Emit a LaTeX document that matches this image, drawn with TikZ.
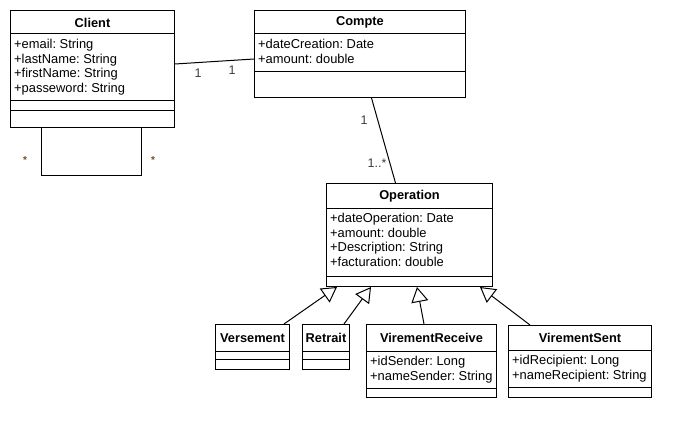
\documentclass[tikz,border=0pt]{standalone}
\usepackage{fontspec}
\setmainfont{Liberation Sans}
\usetikzlibrary{arrows.meta,positioning}

\definecolor{mult}{RGB}{60,60,60}
\definecolor{starc}{RGB}{110,80,20}

\tikzset{
  classbox/.style={draw, line width=1pt, anchor=north west, inner sep=0pt},
  ctitle/.style={font=\fontsize{12.8}{14.7}\selectfont\bfseries, inner sep=0pt},
  attrs/.style={font=\fontsize{12.9}{14.7}\selectfont, align=left, anchor=north west, inner sep=0pt},
  mlabel/.style={font=\fontsize{12.5}{14.7}\selectfont, text=mult, inner sep=0pt},
  assoc/.style={line width=1pt},
  inherit/.style={line width=1pt, -{Triangle[open, length=15pt, width=17pt]}},
}

\begin{document}
\frenchspacing
\begin{tikzpicture}[x=1pt, y=-1pt]
  \useasboundingbox (0,0) rectangle (689,436);

  % class boxes
  \node[classbox, minimum width=164pt, minimum height=117pt] (client) at (10,10) {};
  \node[classbox, minimum width=211pt, minimum height=87pt] (compte) at (254,10) {};
  \node[classbox, minimum width=166pt, minimum height=103pt] (operation) at (326,183) {};
  \node[classbox, minimum width=74pt, minimum height=45pt] (versement) at (215,324) {};
  \node[classbox, minimum width=47pt, minimum height=45pt] (retrait) at (302,324) {};
  \node[classbox, minimum width=130pt, minimum height=73pt] (vreceive) at (366,324) {};
  \node[classbox, minimum width=143pt, minimum height=72pt] (vsent) at (508,325) {};

  % compartments
  \foreach \c/\d in {client/24, client/91, client/101, compte/24, compte/62,
                     operation/25, operation/93, versement/27, versement/35,
                     retrait/27, retrait/35, vreceive/27, vreceive/64,
                     vsent/25, vsent/62}
    \draw[line width=1pt] ([yshift=-\d pt]\c.north west) -- ([yshift=-\d pt]\c.north east);

  % titles
  \node[ctitle] (clientT) at ([yshift=-12.5pt]client.north) {Client};
  \node[ctitle] (compteT) at ([yshift=-12.5pt]compte.north) {Compte};
  \node[ctitle] (operationT) at ([yshift=-13pt]operation.north) {Operation};
  \node[ctitle] (versementT) at ([yshift=-14pt]versement.north) {Versement};
  \node[ctitle] (retraitT) at ([yshift=-14pt]retrait.north) {Retrait};
  \node[ctitle] (vreceiveT) at ([yshift=-14pt]vreceive.north) {VirementReceive};
  \node[ctitle] (vsentT) at ([yshift=-13pt]vsent.north) {VirementSent};

  % attributes
  \node[attrs] (clientA) at ([xshift=4pt,yshift=-29pt]client.north west)
    {+email: String\\+lastName: String\\+firstName: String\\+passeword: String};
  \node[attrs] (compteA) at ([xshift=4pt,yshift=-29pt]compte.north west)
    {+dateCreation: Date\\+amount: double};
  \node[attrs] (operationA) at ([xshift=4pt,yshift=-30pt]operation.north west)
    {+dateOperation: Date\\+amount: double\\+Description: String\\+facturation: double};
  \node[attrs] (vreceiveA) at ([xshift=4pt,yshift=-32pt]vreceive.north west)
    {+idSender: Long\\+nameSender: String};
  \node[attrs] (vsentA) at ([xshift=4pt,yshift=-30pt]vsent.north west)
    {+idRecipient: Long\\+nameRecipient: String};

  % self association on Client
  \coordinate (loopA) at ([xshift=31pt]client.south west);
  \coordinate (loopB) at ([xshift=-34pt]client.south east);
  \draw[assoc] (loopA) -- ++(0,47) -| (loopB);
  \node[font=\normalsize\bfseries, text=starc, inner sep=0pt] (starA) at (25,160) {*};
  \node[font=\normalsize\bfseries, text=starc, inner sep=0pt] (starB) at (153,160) {*};

  % Client -- Compte
  \draw[assoc] ([yshift=-54pt]client.north east) -- ([yshift=-49pt]compte.north west);
  \node[mlabel] (m1) at (198,73) {1};
  \node[mlabel] (m2) at (232,70) {1};

  % Compte -- Operation
  \draw[assoc] ([xshift=11.5pt]compte.south) -- ([xshift=-14pt]operation.north);
  \node[mlabel] (m3) at (364,120) {1};
  \node[mlabel] (m4) at (377,163) {1..*};

  % generalisations
  \draw[inherit] ([xshift=-6pt]versement.north east) -- ([xshift=11pt]operation.south west);
  \draw[inherit] ([xshift=-6pt]retrait.north east) -- ([xshift=45pt]operation.south west);
  \draw[inherit] ([xshift=58pt]vreceive.north west) -- ([xshift=91pt]operation.south west);
  \draw[inherit] ([xshift=22pt]vsent.north west) -- ([xshift=-13pt]operation.south east);
\end{tikzpicture}
\end{document}
